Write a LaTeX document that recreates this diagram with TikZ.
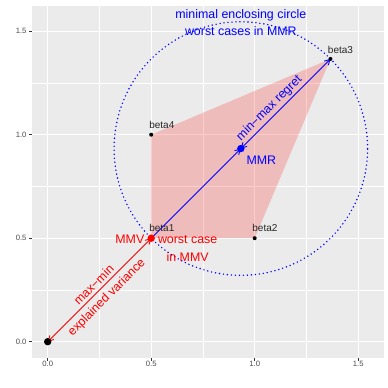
\documentclass[tikz,border=0pt]{standalone}
\usepackage{fontspec}
\setmainfont{Liberation Sans}
\usetikzlibrary{arrows.meta}
\definecolor{panelgrey}{HTML}{EBEBEB}
\definecolor{tickgrey}{HTML}{4D4D4D}
\definecolor{tickline}{HTML}{333333}
\begin{document}
\begin{tikzpicture}[x=1pt,y=1pt,
  big/.style={font=\fontsize{12.4}{14}\selectfont, inner sep=0pt},
  betalbl/.style={font=\fontsize{10}{12}\selectfont, inner sep=0pt, anchor=base west, text=black!85},
  ticklbl/.style={font=\fontsize{7.7}{9}\selectfont, text=tickgrey, inner sep=0pt},
  smalldot/.style={circle, fill=black, inner sep=0pt, minimum size=4pt},
  bigdot/.style={circle, inner sep=0pt, minimum size=7.4pt},
  conn/.style={line width=0.9pt},
  >={Straight Barb[length=5pt,width=5.8pt]},
  majorgrid/.style={white, line width=1.1pt},
  minorgrid/.style={white, line width=0.55pt},
]
\useasboundingbox (0,0) rectangle (388,388);
\fill[white] (0,0) rectangle (388,388);
\begin{scope}[shift={(47.7,46.3)}, x=207pt, y=207pt]
  % panel
  \fill[panelgrey] (-0.0773,-0.0773) rectangle (1.6226,1.6226);
  \foreach \v in {0.25,0.75,1.25} {
    \draw[minorgrid] (\v,-0.0773) -- (\v,1.6226);
    \draw[minorgrid] (-0.0773,\v) -- (1.6226,\v);
  }
  \foreach \v in {0,0.5,1,1.5} {
    \draw[majorgrid] (\v,-0.0773) -- (\v,1.6226);
    \draw[majorgrid] (-0.0773,\v) -- (1.6226,\v);
  }
  % coordinates
  \coordinate (O) at (0,0);
  \coordinate (b1) at (0.5,0.5);
  \coordinate (b2) at (1,0.5);
  \coordinate (b3) at (1.366,1.366);
  \coordinate (b4) at (0.5,1);
  \coordinate (mmr) at (0.933,0.933);
  % polygon
  \fill[red, fill opacity=0.2] (b1) -- (b2) -- (b3) -- (b4) -- cycle;
  % enclosing circle
  \draw[blue, line width=1.6pt, dash pattern=on 0pt off 4pt, line cap=round] (mmr) circle[radius=0.6124];
  % arrows
  \draw[conn, blue, ->] (b1) -- (mmr);
  \draw[conn, blue, <->] (mmr) -- (b3);
  \draw[conn, red, <->] (b1) -- (O);
  % points
  \node[smalldot] (p1) at (b1) {};
  \node[smalldot] (p2) at (b2) {};
  \node[smalldot] (p3) at (b3) {};
  \node[smalldot] (p4) at (b4) {};
  \node[bigdot, fill=black] (p0) at (O) {};
  \node[bigdot, fill=red] (pmmv) at (b1) {};
  \node[bigdot, fill=blue] (pmmr) at (mmr) {};
  % beta labels
  \node[betalbl] (l1) at (0.49,0.533) {beta1};
  \node[betalbl] (l2) at (0.988,0.533) {beta2};
  \node[betalbl] (l3) at (1.353,1.393) {beta3};
  \node[betalbl] (l4) at (0.49,1.029) {beta4};
  % blue labels
  \node[big, text=blue, anchor=base] (t1) at (0.933,1.561) {minimal enclosing circle};
  \node[big, text=blue, anchor=base] (t2) at (0.933,1.477) {worst cases in MMR};
  \node[big, text=blue, rotate=45] (t3) at (1.0715,1.1275) {min−max regret};
  \node[big, text=blue] (t4) at (1.032,0.878) {MMR};
  % red labels
  \node[big, text=red, anchor=base east] (t5) at (0.4676,0.473) {MMV};
  \node[big, text=red, anchor=base] (t6) at (0.676,0.473) {worst case};
  \node[big, text=red, anchor=base] (t7) at (0.676,0.386) {in MMV};
  \node[big, text=red, rotate=45] (t8) at (0.222,0.275) {max−min};
  \node[big, text=red, rotate=45] (t9) at (0.2865,0.212) {explained variance};
  % axes
  \foreach \v/\l/\n in {0/0.0/a,0.5/0.5/b,1/1.0/c,1.5/1.5/d} {
    \draw[tickline, line width=0.5pt] (\v,-0.0773) -- ++(0,-3pt);
    \node[ticklbl] (xt\n) at (\v,-0.109) {\l};
    \draw[tickline, line width=0.5pt] (-0.0773,\v) -- ++(-3pt,0);
    \node[ticklbl, anchor=east] (yt\n) at (-0.1015,\v) {\l};
  }
\end{scope}
\end{tikzpicture}
\end{document}
